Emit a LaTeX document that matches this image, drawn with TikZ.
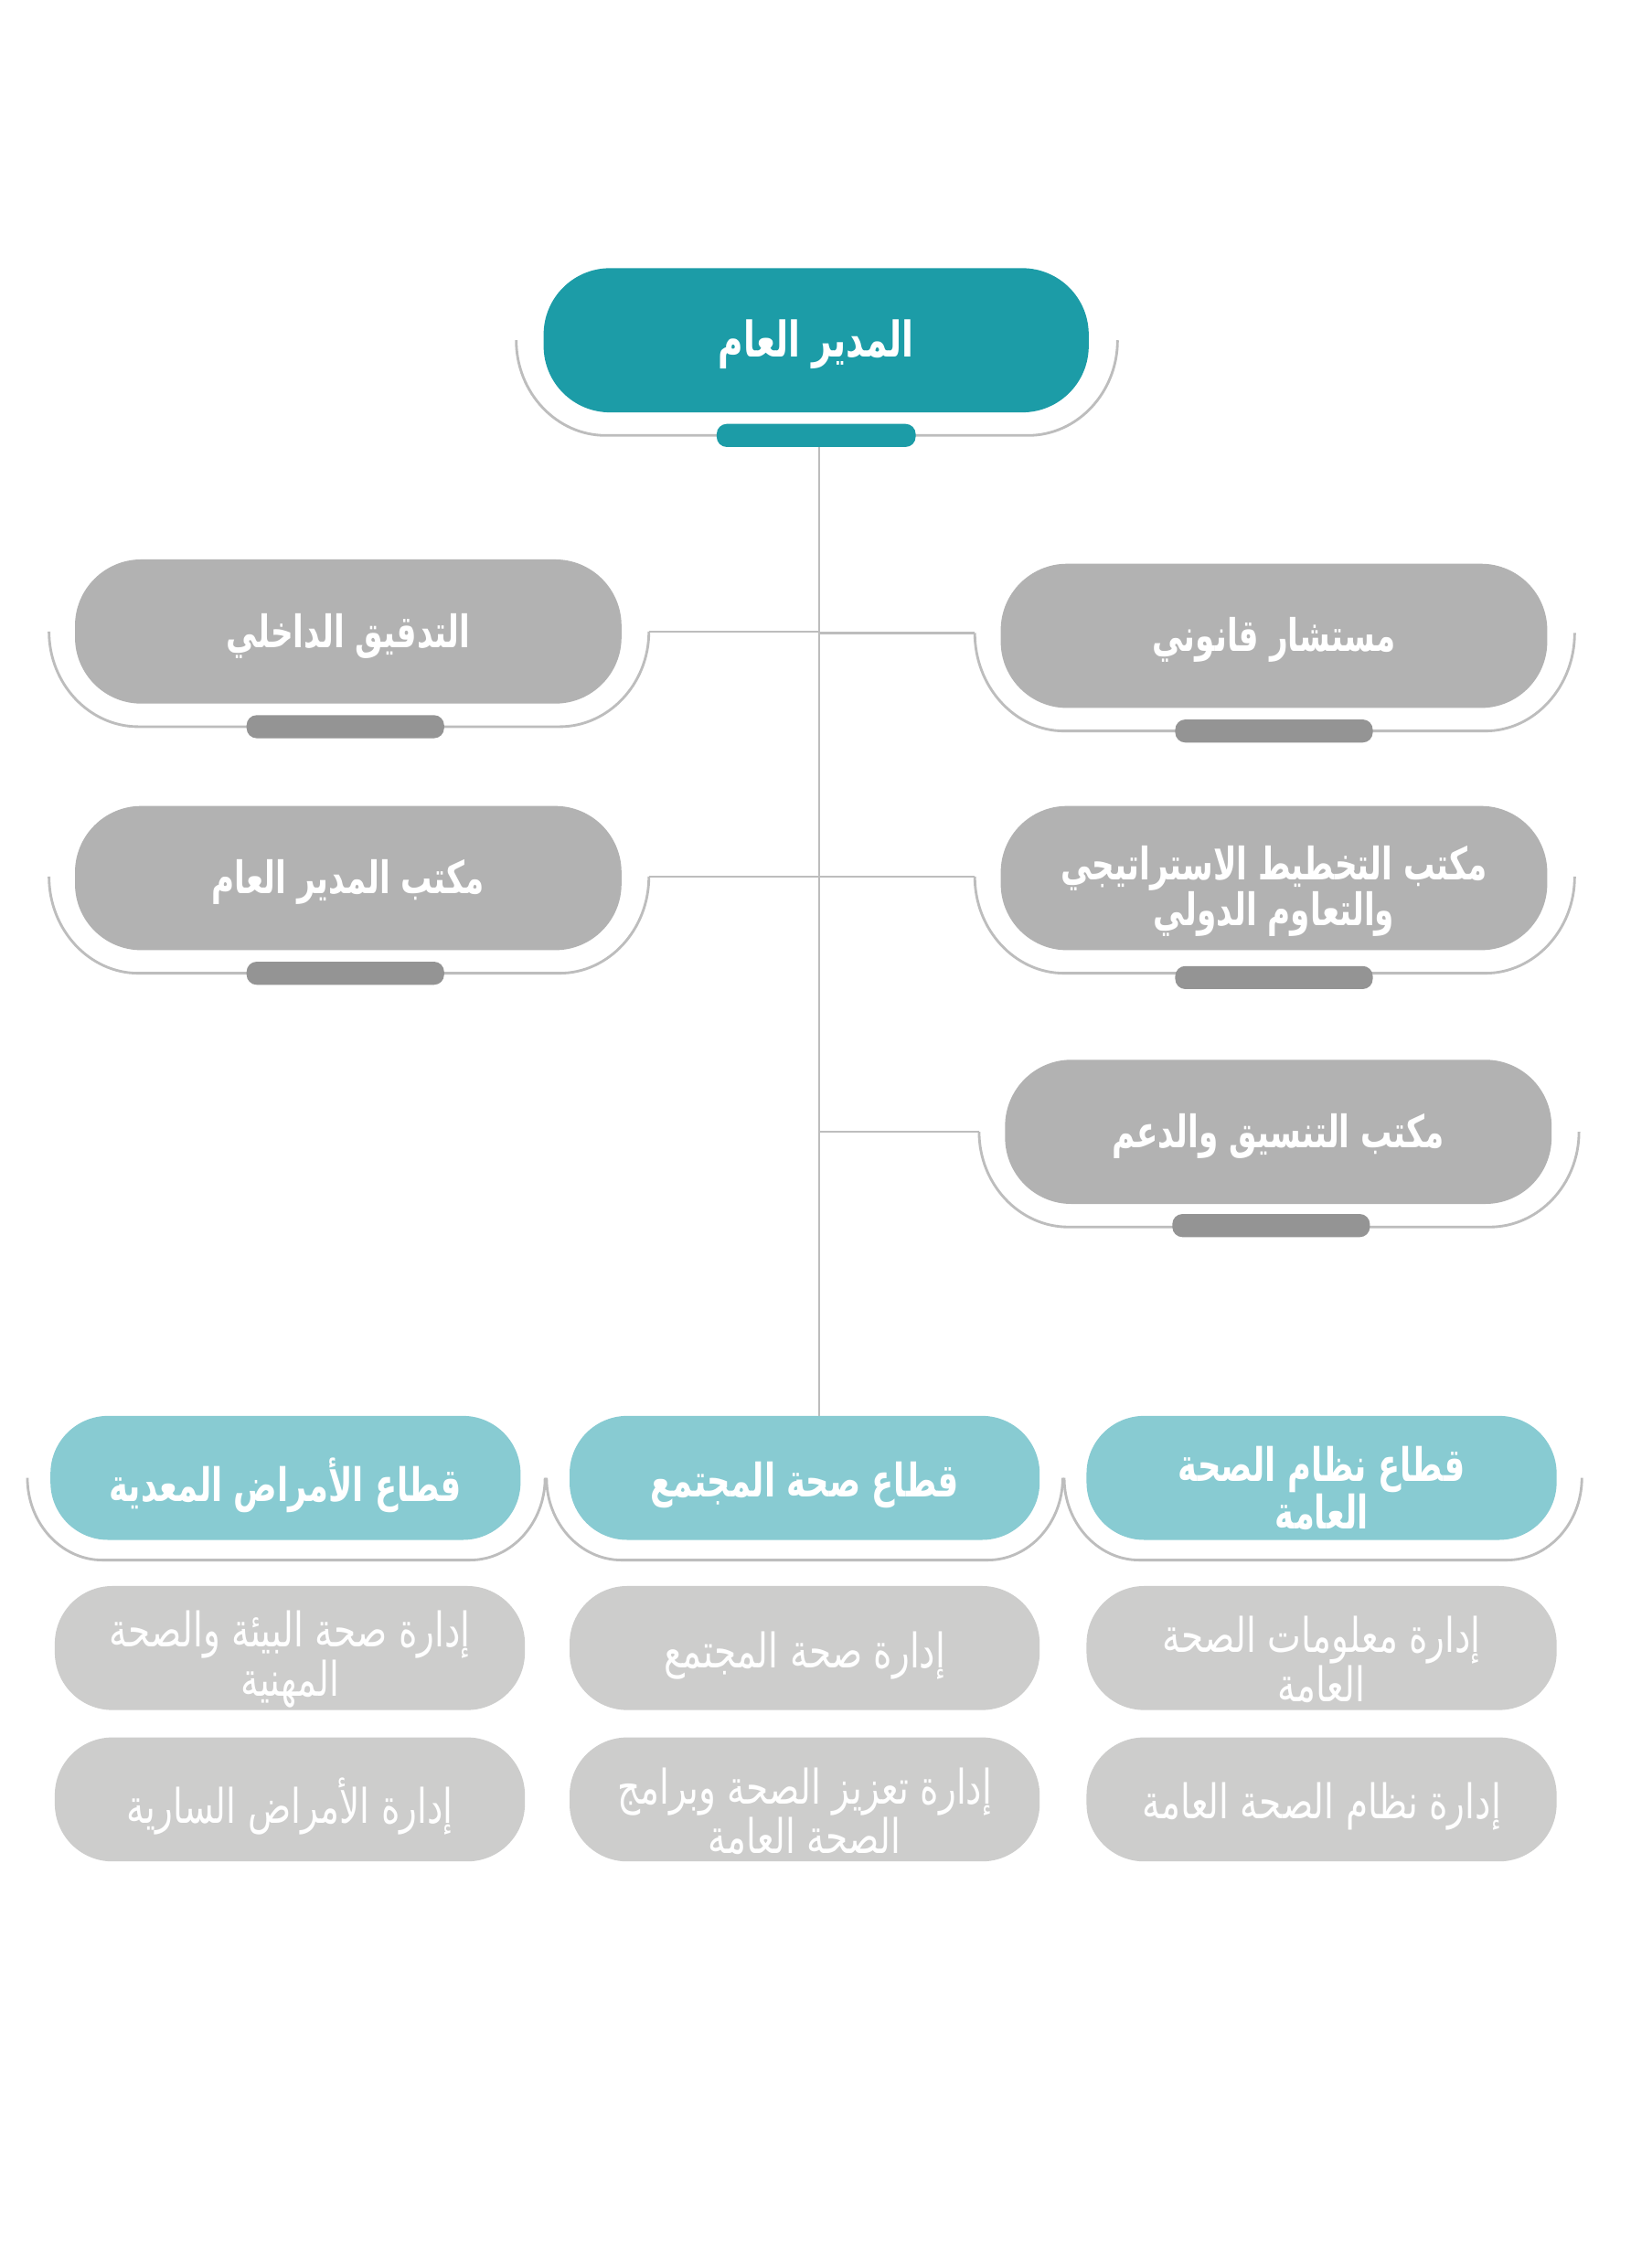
\documentclass[tikz,border=0pt]{standalone}
\usepackage{fontspec}
\TeXXeTstate=1
\newfontfamily\arabicfont[Script=Arabic,FakeStretch=0.7]{DejaVu Sans}
\newfontfamily\arabiclight[Script=Arabic,FakeStretch=0.75]{DejaVu Sans}
\definecolor{teal}{HTML}{1C9CA7}
\definecolor{pillgray}{HTML}{B2B2B2}
\definecolor{bargray}{HTML}{949494}
\definecolor{sectorc}{HTML}{88CBD2}
\definecolor{deptc}{HTML}{CDCDCC}
\definecolor{linec}{HTML}{BDBDBD}
\tikzset{
  pill/.style={rectangle, rounded corners=46pt, minimum width=379pt, minimum height=100pt, inner sep=0pt},
  toppill/.style={pill, fill=teal, minimum width=378pt},
  graypill/.style={pill, fill=pillgray},
  sectorpill/.style={pill, fill=sectorc, rounded corners=40pt, minimum width=326pt, minimum height=86pt},
  deptpill/.style={pill, fill=deptc, rounded corners=40pt, minimum width=326pt, minimum height=86pt},
  txt/.style={inner sep=0pt, text=white, align=center},
  toptxt/.style={txt, font=\arabicfont\bfseries\fontsize{34}{34}\selectfont},
  graytxt/.style={txt, font=\arabicfont\bfseries\fontsize{31}{32}\selectfont},
  sectortxt/.style={txt, font=\arabicfont\bfseries\fontsize{32}{32}\selectfont},
  depttxt/.style={txt, font=\arabiclight\fontsize{33}{31}\selectfont},
  bar/.style={rectangle, rounded corners=7pt, minimum width=137pt, minimum height=16pt, inner sep=0pt},
  arcline/.style={draw=linec, line width=1.8pt},
  conn/.style={draw=linec, line width=1.6pt},
}
% #1 left x, #2 right x, #3 top y, #4 bottom y, #5 horizontal radius
\newcommand\orgarc[5]{%
  \draw[arcline] (#1,#3) .. controls (#1,{#3+0.55*(#4-#3)}) and ({#1+0.45*#5},#4) .. ({#1+#5},#4)
    -- ({#2-#5},#4) .. controls ({#2-0.45*#5},#4) and (#2,{#3+0.55*(#4-#3)}) .. (#2,#3);}
\begin{document}
\begin{tikzpicture}[x=1pt,y=-1pt]
\useasboundingbox[fill=white] (0,0) rectangle (1131,1573);
\coordinate (spine) at (568,0);

% arcs (drawn first)
\orgarc{358}{775}{236}{302}{62}
\orgarc{34}{450}{438}{504}{62}
\orgarc{34}{450}{608}{675}{62}
\orgarc{676}{1092}{439}{507}{62}
\orgarc{676}{1092}{608}{675}{62}
\orgarc{679}{1095}{785}{851}{62}
\orgarc{19}{378}{1025}{1082}{52}
\orgarc{379}{737}{1025}{1082}{52}
\orgarc{738}{1097}{1025}{1082}{52}

\coordinate (l1) at (450,438);
\coordinate (l2) at (450,608);
\coordinate (r1) at (676,439);
\coordinate (r2) at (676,608);
\coordinate (r3) at (679,785);

% top
\node[toppill] (gm) at (566,236) {};
\node[toptxt] (gmt) at ([yshift=-3pt]gm.center) {\beginR المدير العام\endR};
\node[bar, fill=teal, minimum width=138pt] (gmbar) at (566,302) {};

% offices
\node[graypill] (audit) at (241.5,438) {};
\node[graytxt] (auditt) at ([yshift=-3pt]audit.center) {\beginR التدقيق الداخلي\endR};
\node[bar, fill=bargray] (auditbar) at (239.5,504) {};
\node[graypill] (office) at (241.5,609) {};
\node[graytxt] (officet) at ([yshift=-3pt]office.center) {\beginR مكتب المدير العام\endR};
\node[bar, fill=bargray] (officebar) at (239.5,675) {};
\node[graypill] (legal) at (883.5,441) {};
\node[graytxt] (legalt) at ([yshift=-3pt]legal.center) {\beginR مستشار قانوني\endR};
\node[bar, fill=bargray] (legalbar) at (883.5,507) {};
\node[graypill] (plan) at (883.5,609) {};
\node[graytxt] (plant) at ([yshift=-9pt]plan.center) {\beginR مكتب التخطيط الاستراتيجي\endR\\\beginR والتعاوم الدولي\endR};
\node[bar, fill=bargray] (planbar) at (883.5,678) {};
\node[graypill] (coord) at (886.5,785) {};
\node[graytxt] (coordt) at ([yshift=-3pt]coord.center) {\beginR مكتب التنسيق والدعم\endR};
\node[bar, fill=bargray] (coordbar) at (881.5,850) {};

% sectors
\node[sectorpill] (s1) at (198,1025) {};
\node[sectortxt] (s1t) at ([yshift=-5pt]s1.center) {\beginR قطاع الأمراض المعدية\endR};
\node[sectorpill] (s2) at (558,1025) {};
\node[sectortxt] (s2t) at ([yshift=-5pt]s2.center) {\beginR قطاع صحة المجتمع\endR};
\node[sectorpill] (s3) at (916.5,1025) {};
\node[sectortxt] (s3t) at ([yshift=-7pt]s3.center) {\beginR قطاع نظام الصحة\endR\\\beginR العامة\endR};

% departments
\node[deptpill] (d1) at (201,1143) {};
\node[depttxt] (d1t) at ([yshift=-8pt]d1.center) {\beginR إدارة صحة البيئة والصحة\endR\\\beginR المهنية\endR};
\node[deptpill] (d2) at (558,1143) {};
\node[depttxt] (d2t) at ([yshift=-5pt]d2.center) {\beginR إدارة صحة المجتمع\endR};
\node[deptpill] (d3) at (916.5,1143) {};
\node[depttxt] (d3t) at ([yshift=-8pt]d3.center) {\beginR إدارة معلومات الصحة\endR\\\beginR العامة\endR};
\node[deptpill] (d4) at (201,1248) {};
\node[depttxt] (d4t) at ([yshift=-5pt]d4.center) {\beginR إدارة الأمراض السارية\endR};
\node[deptpill] (d5) at (558,1248) {};
\node[depttxt] (d5t) at ([yshift=-8pt]d5.center) {\beginR إدارة تعزيز الصحة وبرامج\endR\\\beginR الصحة العامة\endR};
\node[deptpill] (d6) at (916.5,1248) {};
\node[depttxt] (d6t) at ([yshift=-5pt]d6.center) {\beginR إدارة نظام الصحة العامة\endR};

% connectors
\draw[conn] (gmbar.south -| spine) -- (s2.north -| spine);
\draw[conn] (l1) -- (l1 -| spine);
\draw[conn] (l2) -- (l2 -| spine);
\draw[conn] (r1) -- (r1 -| spine);
\draw[conn] (r2) -- (r2 -| spine);
\draw[conn] (r3) -- (r3 -| spine);
\end{tikzpicture}
\end{document}
